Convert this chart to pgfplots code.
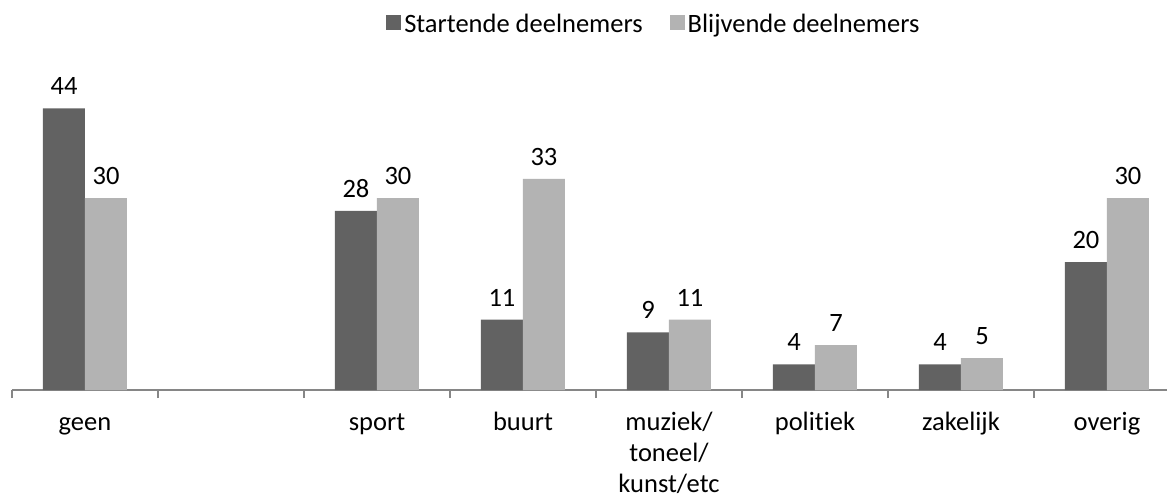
\documentclass[border=0pt]{standalone}
\usepackage{pgfplots}
\pgfplotsset{compat=1.18}
\usepackage{fontspec}
\setmainfont[Ligatures=NoCommon]{Carlito}
\definecolor{darkbar}{HTML}{626262}
\definecolor{lightbar}{HTML}{B3B3B3}
\definecolor{axisgray}{HTML}{868686}
\begin{document}
\begin{tikzpicture}[font=\fontsize{26.5}{31}\selectfont]
\useasboundingbox (-12pt,-109pt) rectangle (1155pt,390pt);
\begin{axis}[
  at={(0pt,0pt)}, anchor=south west,
  scale only axis, width=1168pt, height=320pt,
  /pgf/number format/assume math mode=true,
  ybar=0pt, bar width=42pt,
  xmin=-0.5, xmax=7.5, ymin=0, ymax=50,
  axis x line*=bottom, axis y line=none,
  x axis line style={draw=axisgray, line width=1.5pt},
  xtick={0,...,7},
  xticklabels={\strut geen,,\strut sport,\strut buurt,{\strut muziek/\\toneel/\\kunst/etc},\strut politiek,\strut zakelijk,\strut overig},
  xticklabel style={align=center, anchor=north, inner sep=0pt, yshift=-19pt},
  major tick length=0pt,
  minor xtick={-0.5,0.5,...,7.5},
  minor tick length=8pt,
  tick align=outside,
  tick style={draw=axisgray, line width=1.5pt},
  ytick=\empty,
  nodes near coords,
  nodes near coords style={anchor=south, yshift=10pt},
  legend style={draw=none, at={(0.55,1.144)}, anchor=center, legend columns=2,
    /tikz/every even column/.append style={column sep=24pt},
    nodes={inner sep=3pt}},
  legend image code/.code={\fill[#1] (0pt,-6pt) rectangle (15pt,9pt);},
  enlarge x limits=false,
]
\addplot[fill=darkbar, draw=none] coordinates {(0,44) (2,28) (3,11) (4,9) (5,4) (6,4) (7,20)};
\addplot[fill=lightbar, draw=none] coordinates {(0,30) (2,30) (3,33) (4,11) (5,7) (6,5) (7,30)};
\legend{Startende deelnemers, Blijvende deelnemers}
\end{axis}
\end{tikzpicture}
\end{document}
